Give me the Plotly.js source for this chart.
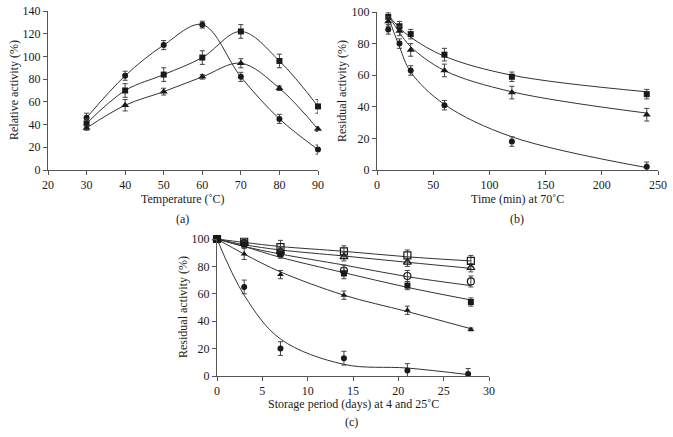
<!DOCTYPE html>
<html>
<head>
<meta charset="utf-8">
<script src="https://cdn.plot.ly/plotly-3.0.1.min.js"></script>
<style>
  body { margin: 0; background: #fff; }
  #fig { width: 673px; height: 437px; }
</style>
</head>
<body>
<div id="fig"></div>
<script>
// (a) temperature profile
var tempC = [30, 40, 50, 60, 70, 80, 90];
var a_circle = [46, 83, 110, 128, 82, 45, 18];
var a_circle_err = [4, 4, 4, 3, 4, 4, 4];
var a_square = [41, 70, 84, 99, 122, 96, 56];
var a_square_err = [4, 6, 6, 6, 6, 6, 6];
var a_tri = [37, 57, 69, 82, 94, 72, 36];
var a_tri_err = [2, 5, 3, 2, 4, 2, 2];

// (b) thermal stability at 70 C
var timeMin = [10, 20, 30, 60, 120, 240];
var b_square = [97, 91, 86, 73, 59, 48];
var b_square_err = [3, 3, 3, 4, 3, 3];
var b_tri = [94, 88, 76, 63, 49, 35];
var b_tri_err = [3, 3, 4, 4, 4, 4];
var b_circle = [89, 80, 63, 41, 18, 2];
var b_circle_err = [3, 3, 3, 3, 3, 3];
// fitted curves (b)
var b_square_fit = [98, 90, 84, 72, 60, 49.5];
var b_tri_fit = [98, 87, 78, 63, 49.5, 36];
var b_circle_fit = [97, 78, 62, 41.5, 21, 1.5];

// (c) storage stability
var days = [0, 3, 7, 14, 21, 28];
var daysLast = [0, 3, 7, 14, 21, 27.7];
var c_osq = [100, 98, 94, 91, 88, 84];
var c_osq_err = [0, 2, 5, 4, 4, 4];
var c_otri = [100, 97, 91, 87, 83, 79];
var c_otri_err = [0, 2, 3, 3, 3, 3];
var c_ocir = [100, 97, 90, 77, 73, 69];
var c_ocir_err = [0, 2, 3, 4, 4, 4];
var c_fsq = [100, 96, 89, 75, 66, 54];
var c_fsq_err = [0, 2, 3, 4, 3, 3];
var c_ftri = [100, 89, 74, 59, 48, 34];
var c_ftri_err = [0, 4, 3, 3, 3, 1];
var c_fcir = [100, 65, 20, 13, 4, 1.5];
var c_fcir_err = [0, 5, 5, 5, 5, 4];
// fitted curves (c)
var c_osq_fit = [100, 97.5, 94.5, 91, 87, 84];
var c_otri_fit = [100, 95.8, 92, 87.6, 83, 78.6];
var c_ocir_fit = [100, 94.6, 89, 81, 72.5, 66];
var c_fsq_fit = [100, 94.5, 86.6, 75.4, 64.7, 55.5];
var c_ftri_fit = [100, 89, 76, 59, 47, 34.5];
var c_fcir_fit = [100, 59, 27, 8.5, 5.8, 1];

var serif = "Liberation Serif, Times New Roman, serif";
var ink = "#1a1a1a";
var lineCol = "#333333";

function pts(x, y, err, sym, size, xa, ya, mode) {
	var open = sym.indexOf("open") >= 0;
	return {
		type: "scatter",
		mode: mode || "markers",
		x: x, y: y,
		xaxis: xa, yaxis: ya,
		line: { shape: "spline", smoothing: 1, color: lineCol, width: 1 },
		marker: {
			symbol: sym, size: size,
			color: ink,
			line: { color: ink, width: open ? 1.2 : 0 }
		},
		error_y: { type: "data", array: err, visible: true, color: "#444", thickness: 1, width: 2.5 },
		cliponaxis: false,
		showlegend: false,
		hoverinfo: "x+y"
	};
}

function fit(x, y, xa, ya) {
	return {
		type: "scatter", mode: "lines",
		x: x, y: y, xaxis: xa, yaxis: ya,
		line: { shape: "spline", smoothing: 1, color: lineCol, width: 1 },
		cliponaxis: false, showlegend: false, hoverinfo: "skip"
	};
}

var data = [
	pts(tempC, a_circle, a_circle_err, "circle", 6, "x", "y", "lines+markers"),
	pts(tempC, a_square, a_square_err, "square", 6, "x", "y", "lines+markers"),
	pts(tempC, a_tri, a_tri_err, "triangle-up", 7, "x", "y", "lines+markers"),

	fit(timeMin, b_square_fit, "x2", "y2"),
	fit(timeMin, b_tri_fit, "x2", "y2"),
	fit(timeMin, b_circle_fit, "x2", "y2"),
	pts(timeMin, b_square, b_square_err, "square", 6, "x2", "y2"),
	pts(timeMin, b_tri, b_tri_err, "triangle-up", 7, "x2", "y2"),
	pts(timeMin, b_circle, b_circle_err, "circle", 6, "x2", "y2"),

	fit(days, c_osq_fit, "x3", "y3"),
	fit(days, c_otri_fit, "x3", "y3"),
	fit(days, c_ocir_fit, "x3", "y3"),
	fit(days, c_fsq_fit, "x3", "y3"),
	fit(days, c_ftri_fit, "x3", "y3"),
	fit(daysLast, c_fcir_fit, "x3", "y3"),
	pts(days, c_osq, c_osq_err, "square-open", 7, "x3", "y3"),
	pts(days, c_otri, c_otri_err, "triangle-up-open", 7, "x3", "y3"),
	pts(days, c_ocir, c_ocir_err, "circle-open", 7, "x3", "y3"),
	pts(days, c_fsq, c_fsq_err, "square", 6, "x3", "y3"),
	pts(days, c_ftri, c_ftri_err, "triangle-up", 6, "x3", "y3"),
	pts(daysLast, c_fcir, c_fcir_err, "circle", 6, "x3", "y3")
];

function ax(extra) {
	var base = {
		showline: true, linecolor: "#555", linewidth: 1,
		ticks: "outside", ticklen: 4, tickcolor: "#555",
		showgrid: false, zeroline: false, fixedrange: true,
		tickfont: { family: serif, size: 12, color: ink },
		automargin: false
	};
	for (var k in extra) base[k] = extra[k];
	return base;
}

var W = 673, H = 437;
function px(v) { return v / W; }
function py(v) { return 1 - v / H; }

function label(text, x, y, angle) {
	return {
		text: text, xref: "paper", yref: "paper",
		x: px(x), y: py(y), xanchor: "center", yanchor: "middle",
		showarrow: false, textangle: angle || 0,
		font: { family: serif, size: 12, color: ink }
	};
}

var layout = {
	width: W, height: H,
	margin: { l: 0, r: 0, t: 0, b: 0 },
	paper_bgcolor: "#fff", plot_bgcolor: "#fff",
	showlegend: false,
	xaxis: ax({ domain: [px(48), px(318)], range: [20, 90], dtick: 10, anchor: "y" }),
	yaxis: ax({ domain: [py(170), py(11)], range: [0, 140], dtick: 20, anchor: "x" }),
	xaxis2: ax({ domain: [px(377), px(658)], range: [0, 250], dtick: 50, anchor: "y2" }),
	yaxis2: ax({ domain: [py(170), py(12)], range: [0, 100], dtick: 20, anchor: "x2" }),
	xaxis3: ax({ domain: [px(217), px(489)], range: [0, 30], dtick: 5, anchor: "y3" }),
	yaxis3: ax({ domain: [py(376), py(239)], range: [0, 100], dtick: 20, anchor: "x3" }),
	annotations: [
		label("Temperature (\u02DAC)", 183, 199),
		label("Relative activity (%)", 14, 90, -90),
		label("(a)", 183, 219),
		label("Time (min) at 70\u02DAC", 517, 199),
		label("Residual activity (%)", 342, 91, -90),
		label("(b)", 517, 219),
		label("Storage period (days) at 4 and 25\u02DAC", 353, 404),
		label("Residual activity (%)", 183, 307, -90),
		label("(c)", 351, 422)
	]
};

Plotly.newPlot("fig", data, layout, { displayModeBar: false, staticPlot: true });
</script>
</body>
</html>
